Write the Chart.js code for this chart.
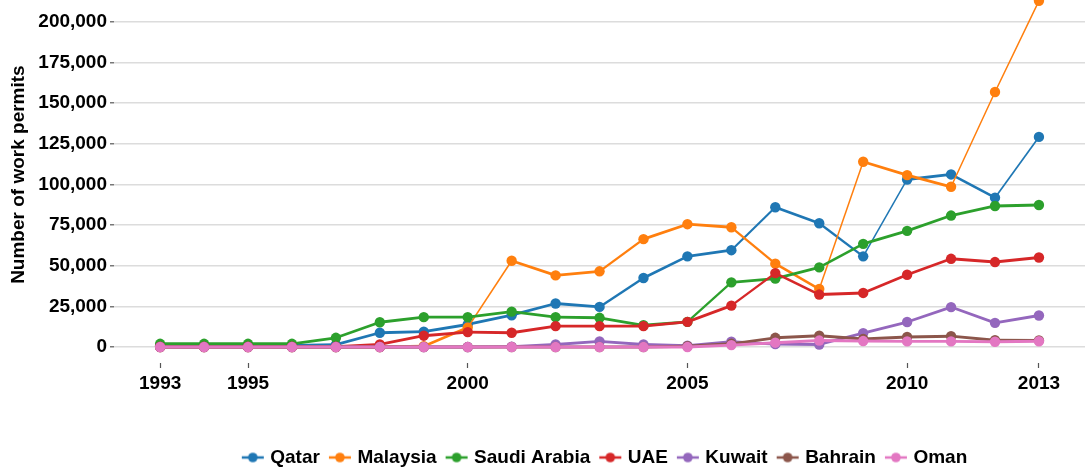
<!DOCTYPE html>
<html><head><meta charset="utf-8">
<script src="https://cdn.jsdelivr.net/npm/chart.js@4.4.1/dist/chart.umd.min.js"></script>
<style>
html,body{margin:0;padding:0;background:#fff;overflow:hidden;width:1085px;height:468px;}
#wrap{position:absolute;left:0;top:-19px;width:1212px;height:496px;}
</style></head><body>
<div id="wrap"><canvas id="c" width="1212" height="496"></canvas></div>
<script>
const years = [1993,1994,1995,1996,1997,1998,1999,2000,2001,2002,2003,2004,2005,2006,2007,2008,2009,2010,2011,2012,2013];
const qatar       = [1000,1000,1000,1000,1500,8800,9500,13900,19600,26800,24700,42500,55800,59600,86000,76200,55800,103100,106200,91900,129300];
const malaysia    = [0,0,0,0,0,0,500,12000,53100,44100,46600,66400,75600,73700,51300,35700,114000,105800,98600,156900,213000];
const saudiArabia = [2000,2000,2000,2000,5700,15300,18400,18400,21800,18400,18000,13400,15500,39800,42100,49000,63500,71500,80900,86800,87400];
const uae         = [300,300,300,300,300,1600,7000,9200,8800,12900,12900,12900,15500,25500,45500,32300,33300,44500,54300,52300,55100];
const kuwait      = [0,0,0,0,0,0,0,0,300,1600,3500,1600,800,3300,1800,1600,8600,15400,24600,14900,19400];
const bahrain     = [0,0,0,0,0,0,0,0,0,0,0,0,500,2000,5700,7000,5000,6200,6700,4200,4100];
const oman        = [0,0,0,0,0,0,0,0,0,0,0,0,0,1200,2700,4000,3700,3500,3500,3300,3600];

const seriesNames  = ['Qatar','Malaysia','Saudi Arabia','UAE','Kuwait','Bahrain','Oman'];
const seriesValues = [qatar, malaysia, saudiArabia, uae, kuwait, bahrain, oman];
const seriesColors = ['#1f77b4','#ff7f0e','#2ca02c','#d62728','#9467bd','#8c564b','#e377c2'];

const yTicks = [0,25000,50000,75000,100000,125000,150000,175000,200000];
const xTicks = [1993,1995,2000,2005,2010,2013];
const yTitle = 'Number of work permits';

const FONT = {family:"'Liberation Sans', Arial, sans-serif", size:19, weight:'bold'};

function legendIcon(color){
  const c=document.createElement('canvas'); c.width=24; c.height=14;
  const g=c.getContext('2d');
  g.strokeStyle=color; g.lineWidth=2.5;
  g.beginPath(); g.moveTo(1,7); g.lineTo(23,7); g.stroke();
  g.fillStyle=color; g.beginPath(); g.arc(12,7,4.8,0,Math.PI*2); g.fill();
  return c;
}
const icons = seriesColors.map(legendIcon);

const datasets = seriesNames.map((name,i)=>({
  label:name,
  data: years.map((y,j)=>({x:y, y:seriesValues[i][j]})),
  borderColor:seriesColors[i],
  backgroundColor:seriesColors[i],
  pointBackgroundColor:seriesColors[i],
  pointBorderWidth:0,
  pointRadius:5.2,
  pointHoverRadius:5.2,
  borderWidth:2.8,
  tension:0,
  order: seriesNames.length-1-i,
  clip:false,
  segment:{
    borderWidth: ctx=>{
      const dx=ctx.p1.x-ctx.p0.x, dy=ctx.p1.y-ctx.p0.y;
      const c=Math.abs(dx)/Math.hypot(dx,dy);
      return Math.max(1.5, 2.9*c);
    }
  }
}));

new Chart(document.getElementById('c'),{
  type:'line',
  data:{datasets},
  options:{
    responsive:false,
    devicePixelRatio:1,
    animation:false,
    layout:{padding:{left:0,right:0,top:0,bottom:0}},
    plugins:{
      tooltip:{enabled:false},
      legend:{
        position:'bottom',
        labels:{
          font:FONT, color:'#000',
          usePointStyle:true, pointStyleWidth:16,
          padding:12,
          sort:(a,b)=>a.datasetIndex-b.datasetIndex,
          generateLabels:(chart)=>{
            const items=Chart.defaults.plugins.legend.labels.generateLabels(chart);
            items.forEach(it=>{ it.pointStyle=icons[it.datasetIndex]; });
            return items;
          }
        }
      }
    },
    scales:{
      x:{
        type:'linear', min:1991.95, max:2016.82,
        afterBuildTicks:axis=>{ axis.ticks=xTicks.map(v=>({value:v})); },
        afterFit:axis=>{ axis.height=73; axis.paddingLeft=0; axis.paddingRight=0; },
        ticks:{font:FONT, color:'#000', padding:4, maxRotation:0, autoSkip:false, callback:v=>String(v)},
        grid:{drawOnChartArea:false, drawTicks:true, tickLength:5, tickColor:'#555', tickWidth:1.2},
        border:{display:false}
      },
      y:{
        type:'linear', min:-9800, max:222000,
        afterBuildTicks:axis=>{ axis.ticks=yTicks.map(v=>({value:v})); },
        afterFit:axis=>{ axis.width=114; axis.paddingTop=0; axis.paddingBottom=0; },
        ticks:{font:FONT, color:'#000', padding:3, callback:v=>Number(v).toLocaleString('en-US')},
        grid:{color:'#dcdcdc', lineWidth:1.6, drawTicks:true, tickLength:4, tickColor:'#555', tickWidth:1.2},
        border:{display:false},
        title:{display:true, text:yTitle, font:FONT, color:'#000', padding:{top:7.6,bottom:0}}
      }
    }
  }
});
</script>
</body></html>
